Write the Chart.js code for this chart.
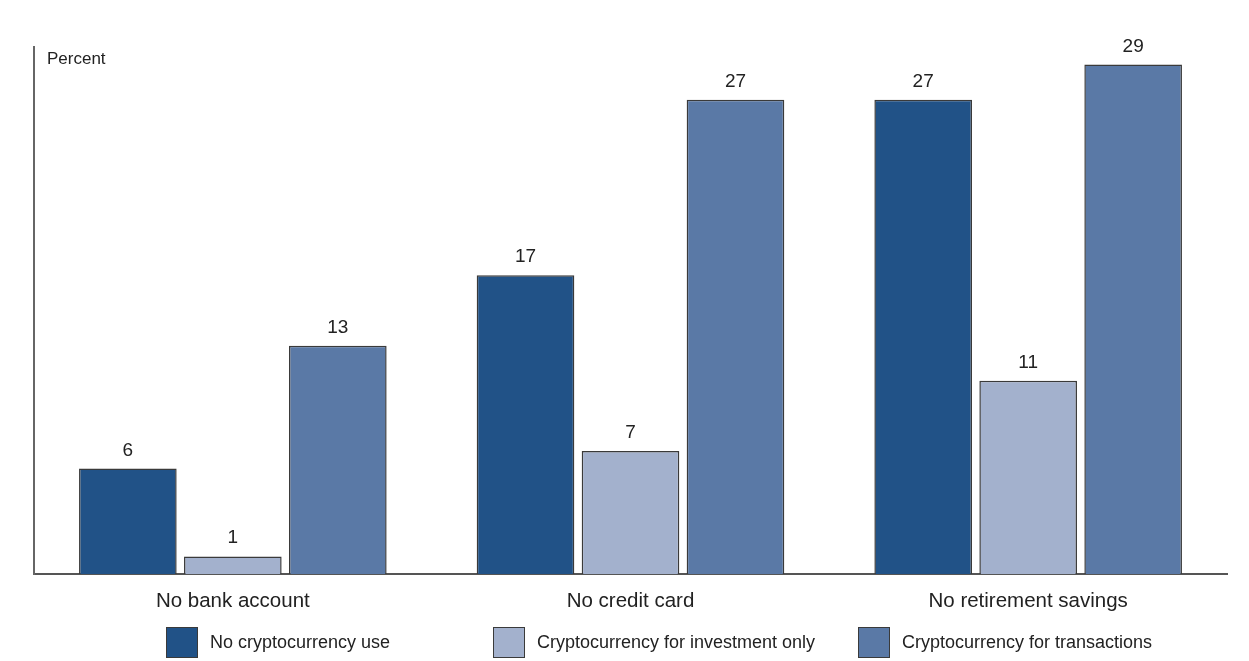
<!DOCTYPE html>
<html>
<head>
<meta charset="utf-8">
<script src="https://cdn.jsdelivr.net/npm/chart.js@4/dist/chart.umd.min.js"></script>
<style>
  body { margin: 0; background: #fff; }
  #wrap { position: relative; width: 1249px; height: 661px; }
  #legend { position: absolute; left: 0; top: 626px; width: 1249px; height: 32px; }
  .item { position: absolute; top: 0; display: flex; align-items: center; height: 32px;
    font-family: "Liberation Sans", Arial, sans-serif; font-size: 18px; color: #222; }
  .box { width: 30px; height: 29px; border: 1px solid #3a3a3a; margin-right: 12px; }
</style>
</head>
<body>
<div id="wrap">
  <canvas id="chart" width="1249" height="661"></canvas>
  <div id="legend"></div>
</div>
<script>
const categories = ["No bank account", "No credit card", "No retirement savings"];
const seriesNames = ["No cryptocurrency use", "Cryptocurrency for investment only", "Cryptocurrency for transactions"];
const noCrypto = [6, 17, 27];
const investOnly = [1, 7, 11];
const transactions = [13, 27, 29];
const colors = ["#215287", "#a3b1cd", "#5a79a6"];
const legendLeft = [166, 493, 858]; // legend items are not evenly spaced in the source

const font = "'Liberation Sans', Arial, sans-serif";

// value labels above bars + "Percent" axis caption
const barLabels = {
  id: "barLabels",
  afterDatasetsDraw(chart) {
    const ctx = chart.ctx;
    ctx.save();
    ctx.fillStyle = "#222";
    ctx.font = "19px " + font;
    ctx.textAlign = "center";
    ctx.textBaseline = "alphabetic";
    chart.data.datasets.forEach((ds, i) => {
      chart.getDatasetMeta(i).data.forEach((bar, j) => {
        ctx.fillText(ds.data[j], bar.x, bar.y - 13);
      });
    });
    ctx.font = "17px " + font;
    ctx.textAlign = "left";
    ctx.fillText("Percent", chart.chartArea.left + 13, chart.chartArea.top + 17);
    ctx.restore();
  }
};

const ctx = document.getElementById("chart").getContext("2d");
new Chart(ctx, {
  type: "bar",
  data: {
    labels: categories,
    datasets: [noCrypto, investOnly, transactions].map((d, i) => ({
      label: seriesNames[i],
      data: d,
      backgroundColor: colors[i],
      borderColor: "#3a3a3a",
      borderWidth: 1.5,
      barPercentage: 0.93,
      categoryPercentage: 0.792
    }))
  },
  options: {
    responsive: false,
    animation: false,
    layout: { padding: { top: 47, right: 22, left: 0, bottom: 0 } },
    plugins: { legend: { display: false }, tooltip: { enabled: false } },
    scales: {
      x: {
        grid: { display: false },
        border: { display: true, color: "#555", width: 2 },
        ticks: { color: "#222", font: { family: font, size: 20.5 }, padding: 7 },
        afterFit: (s) => { s.height = 87; }
      },
      y: {
        min: 0,
        max: 30,
        grid: { display: false },
        border: { display: true, color: "#666", width: 2 },
        ticks: { display: false },
        afterFit: (s) => { s.width = 34; }
      }
    }
  },
  plugins: [barLabels]
});

// custom legend
const legend = document.getElementById("legend");
seriesNames.forEach((name, i) => {
  const item = document.createElement("div");
  item.className = "item";
  item.style.left = legendLeft[i] + "px";
  item.innerHTML = `<span class="box" style="background:${colors[i]}"></span><span>${name}</span>`;
  legend.appendChild(item);
});
</script>
</body>
</html>
